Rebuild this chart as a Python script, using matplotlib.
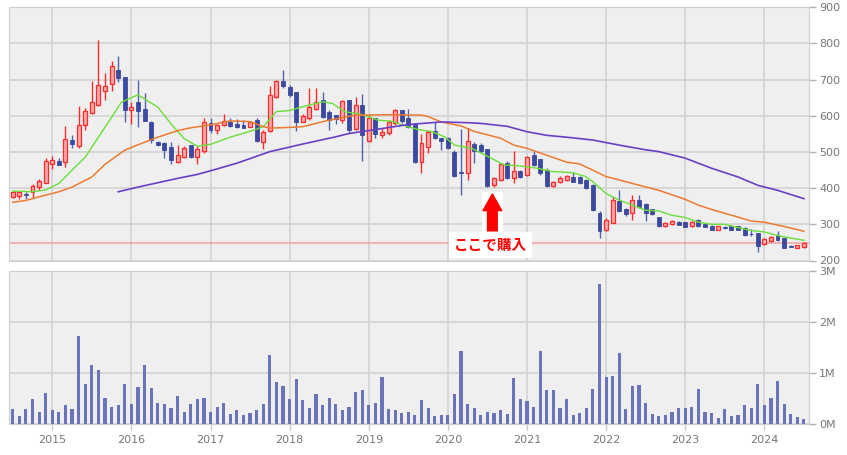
import matplotlib

matplotlib.use("Agg")

import matplotlib.pyplot as plt
import numpy as np
import pandas as pd

# monthly candles, 2014-07 .. 2024-07
months = pd.date_range("2014-07-01", periods=121, freq="MS")

opens = [375, 378, 384, 390, 404, 415, 468, 474, 473, 532, 516, 575, 609, 630, 668, 688,
         728, 708, 617, 637, 620, 582, 528, 525, 514, 473, 486, 518, 486, 502, 580, 561,
         574, 584, 577, 574, 570, 588, 528, 559, 652, 695, 680, 666, 584, 593, 620, 645,
         611, 602, 588, 645, 563, 629, 531, 593, 547, 553, 579, 616, 595, 578, 473, 515,
         559, 538, 538, 500, 445, 442, 523, 519, 507, 408, 423, 470, 428, 448, 437, 492,
         480, 451, 407, 416, 423, 432, 430, 423, 409, 331, 284, 304, 364, 341, 332, 368,
         357, 341, 320, 294, 300, 307, 306, 294, 312, 300, 296, 285, 293, 294, 294, 291,
         274, 276, 245, 253, 271, 262, 239, 235, 237]
highs = [393, 392, 390, 411, 424, 484, 488, 483, 571, 546, 626, 621, 695, 809, 717, 752,
         766, 708, 638, 698, 662, 585, 530, 528, 528, 519, 516, 520, 516, 594, 595, 577,
         605, 593, 590, 588, 586, 593, 561, 682, 700, 726, 684, 666, 604, 678, 678, 666,
         616, 602, 645, 645, 652, 661, 602, 593, 567, 588, 620, 617, 620, 580, 551, 562,
         583, 540, 542, 505, 563, 565, 527, 524, 509, 432, 470, 476, 504, 451, 489, 503,
         480, 455, 419, 433, 437, 446, 433, 426, 411, 337, 318, 376, 394, 344, 380, 381,
         358, 342, 321, 306, 311, 308, 307, 310, 316, 301, 298, 295, 295, 295, 295, 292,
         288, 277, 262, 268, 282, 263, 242, 244, 250]
lows = [372, 369, 371, 372, 395, 413, 454, 463, 459, 511, 511, 560, 606, 626, 644, 668,
        693, 583, 578, 569, 585, 525, 516, 482, 468, 470, 482, 484, 468, 497, 553, 551,
        572, 568, 565, 565, 568, 528, 508, 556, 648, 678, 652, 559, 582, 588, 617, 593,
        562, 577, 580, 553, 561, 476, 528, 540, 538, 547, 574, 579, 565, 470, 443, 498,
        537, 506, 507, 430, 380, 422, 470, 498, 403, 403, 421, 425, 414, 428, 434, 460,
        437, 403, 403, 413, 420, 416, 412, 398, 338, 262, 282, 304, 335, 322, 311, 346,
        309, 327, 293, 293, 299, 297, 292, 293, 293, 292, 284, 284, 288, 284, 284, 269,
        269, 223, 243, 251, 254, 234, 236, 234, 235]
closes = [390, 388, 380, 407, 419, 474, 479, 465, 537, 523, 575, 612, 638, 685, 682, 737,
          705, 615, 624, 614, 587, 532, 519, 505, 477, 491, 511, 486, 509, 582, 560, 574,
          586, 572, 568, 567, 584, 531, 556, 657, 695, 682, 657, 584, 599, 625, 639, 597,
          588, 590, 640, 561, 629, 547, 593, 551, 556, 584, 616, 585, 568, 472, 526, 556,
          539, 531, 510, 433, 442, 530, 503, 502, 405, 427, 467, 428, 448, 431, 487, 464,
          441, 405, 416, 429, 434, 418, 414, 400, 340, 282, 313, 366, 337, 328, 366, 349,
          331, 328, 294, 305, 309, 299, 293, 307, 295, 293, 285, 294, 290, 285, 285, 270,
          272, 240, 260, 266, 256, 235, 237, 243, 248]
volumes_m = [0.29, 0.17, 0.29, 0.49, 0.25, 0.62, 0.27, 0.25, 0.38, 0.29, 1.72, 0.78, 1.15,
             1.07, 0.51, 0.34, 0.37, 0.78, 0.40, 0.73, 1.15, 0.70, 0.42, 0.40, 0.32, 0.55,
             0.25, 0.40, 0.49, 0.51, 0.25, 0.34, 0.42, 0.21, 0.27, 0.19, 0.23, 0.27, 0.40,
             1.35, 0.82, 0.75, 0.50, 0.88, 0.47, 0.32, 0.60, 0.38, 0.52, 0.40, 0.27, 0.34,
             0.64, 0.67, 0.38, 0.42, 0.92, 0.29, 0.27, 0.23, 0.25, 0.19, 0.47, 0.32, 0.17,
             0.19, 0.19, 0.60, 1.44, 0.40, 0.32, 0.19, 0.25, 0.23, 0.27, 0.21, 0.90, 0.49,
             0.45, 0.34, 1.44, 0.67, 0.67, 0.32, 0.49, 0.19, 0.23, 0.32, 0.68, 2.75, 0.92,
             0.94, 1.39, 0.30, 0.75, 0.77, 0.42, 0.21, 0.17, 0.19, 0.25, 0.32, 0.32, 0.34,
             0.68, 0.25, 0.23, 0.12, 0.30, 0.17, 0.19, 0.37, 0.32, 0.79, 0.38, 0.52, 0.84,
             0.40, 0.21, 0.15, 0.10]

# moving averages (month index -> price)
ma_short_idx = [0, 3, 5, 7, 9, 11, 13, 15, 16.5, 19, 22, 24, 26, 28, 30, 33, 36.5, 38, 40,
                41.8, 44, 47, 48.5, 50.4, 52.4, 54, 55.4, 57.5, 59.5, 61.5, 63.6, 65.5, 67,
                69.6, 71.6, 73.6, 74.6, 76.6, 79.6, 81.8, 84.8, 86.8, 88, 90, 92, 94, 96, 98,
                100, 102, 104, 106, 108, 110, 112, 114, 116, 118, 120]
ma_short_val = [392, 390, 395, 413, 450, 486, 541, 596, 638, 658, 624, 578, 537, 516, 521,
                541, 560, 570, 612, 614, 625, 639, 634, 611, 606, 597, 588, 585, 572, 562,
                556, 542, 519, 510, 492, 473, 464, 462, 455, 446, 443, 433, 418, 385, 367,
                353, 339, 337, 325, 319, 306, 300, 300, 291, 283, 279, 269, 262, 256]
ma_mid_idx = [0, 2, 4, 7, 9, 12, 14, 17, 19, 22, 25, 27, 30, 33, 36, 38, 39, 42, 44, 48, 52,
              57, 62, 63, 65, 68, 70, 74, 76, 78, 81, 84, 86, 90, 94, 98, 102, 104, 106, 110,
              112, 114, 117, 120]
ma_mid_val = [361, 366, 376, 390, 403, 431, 466, 505, 520, 541, 559, 567, 575, 586, 584, 570,
              566, 568, 570, 588, 602, 603, 602, 598, 583, 572, 557, 538, 519, 510, 491, 472,
              467, 432, 413, 394, 369, 353, 341, 320, 309, 306, 294, 281]
ma_long_idx = [16, 19, 22, 25, 28, 30, 34, 39, 44, 49, 51, 55, 60, 65, 69, 71, 75, 78, 81,
               84.5, 88, 92, 96, 98, 102, 106, 110, 113, 116, 120]
ma_long_val = [390, 403, 415, 427, 438, 448, 469, 501, 522, 542, 551, 562, 576, 583, 581, 579,
               571, 556, 546, 540, 533, 519, 506, 501, 483, 455, 431, 408, 394, 371]

buy_price = 247
buy_label = "ここで購入"
buy_month = 72.7

BG = "#efefef"
GRID = "#d3d3d3"
TXT = "#777777"
UP_EDGE, UP_FACE = "#ff2a2a", "#f9a9a9"
DOWN = "#3b4a9e"

x = np.arange(len(months))
o = np.array(opens, float)
c = np.array(closes, float)
up = c >= o

fig = plt.figure(figsize=(8.47, 4.55), dpi=100)
ax = fig.add_axes([9.3 / 847, 1 - 260.5 / 455, 800 / 847, 253.2 / 455])
axv = fig.add_axes([9.3 / 847, 1 - 424.3 / 455, 800 / 847, 153.6 / 455])

year_ticks = x[months.month == 1]
year_labels = [str(d.year) for d in months[months.month == 1]]

for a in (ax, axv):
    a.set_facecolor(BG)
    a.set_xlim(-0.52, 120.82)
    a.set_xticks(year_ticks)
    a.grid(True, color=GRID, lw=1.2)
    a.set_axisbelow(True)
    for s in a.spines.values():
        s.set_color("#cfcfcf")
    a.yaxis.tick_right()
    a.tick_params(axis="y", colors="#b0b0b0", length=5, width=1, labelcolor=TXT,
                  labelsize=8, pad=2)
    a.tick_params(axis="x", colors="#c8c8c8", length=4, width=1, labelcolor=TXT,
                  labelsize=8, pad=4)

# price panel
ax.set_ylim(200, 900)
ax.set_yticks(range(200, 1000, 100))
ax.tick_params(axis="x", labelbottom=False, length=0)

ax.axhline(buy_price, color="#f2a2a2", lw=1.1, zorder=1.5)

ax.vlines(x[up], np.array(lows)[up], np.array(highs)[up], color=UP_EDGE, lw=1, zorder=2)
ax.vlines(x[~up], np.array(lows)[~up], np.array(highs)[~up], color="#5362ad", lw=1, zorder=2)
body_h = np.maximum(np.abs(c - o), 1.5)
body_b = np.minimum(o, c)
ax.bar(x[up], body_h[up], bottom=body_b[up], width=0.6, color=UP_FACE,
       edgecolor=UP_EDGE, linewidth=0.9, zorder=3)
ax.bar(x[~up], body_h[~up], bottom=body_b[~up], width=0.6, color=DOWN,
       edgecolor=DOWN, linewidth=0.6, zorder=3)

ax.plot(ma_short_idx, ma_short_val, color="#6cde3a", lw=1.0, zorder=4)
ax.plot(ma_mid_idx, ma_mid_val, color="#ee7a30", lw=1.1, zorder=4)
ax.plot(ma_long_idx, ma_long_val, color="#6a3fc6", lw=1.2, zorder=4)

# annotation
ax.bar([buy_month + 0.05], [110], bottom=278, width=3.1, color="white", zorder=5)
ax.annotate("", xy=(buy_month + 0.05, 384), xytext=(buy_month + 0.05, 282),
            arrowprops=dict(arrowstyle="simple,head_width=1.35,head_length=1.2,tail_width=0.7",
                            color="#ff0000", mutation_scale=10, shrinkA=0, shrinkB=0),
            zorder=6)
ax.text(buy_month - 0.2, 242, buy_label, color="#ff0000", fontsize=10.5,
        fontweight="bold", ha="center", va="center", zorder=6,
        family=["Noto Sans CJK JP", "DejaVu Sans"],
        bbox=dict(fc="white", ec="none", pad=3.5))

# volume panel
axv.bar(x, volumes_m, width=0.48, color="#6b74b8", zorder=3)
axv.set_ylim(0, 3)
axv.set_yticks([0, 1, 2, 3])
axv.set_yticklabels(["0M", "1M", "2M", "3M"])
axv.set_xticklabels(year_labels)

fig.savefig("out.png", dpi=100)
